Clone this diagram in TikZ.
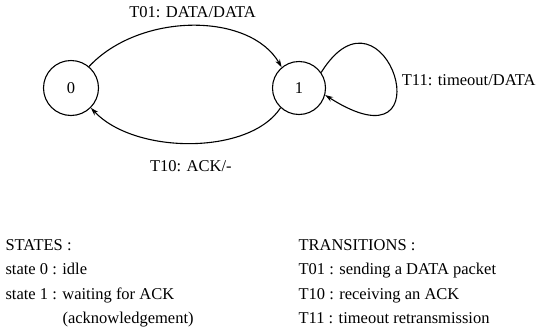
\documentclass[tikz,border=0pt]{standalone}
\usepackage{fontspec}
\setmainfont{Liberation Serif}
\usetikzlibrary{arrows.meta}
\tikzstyle{state}=[circle, draw, minimum size=55pt, inner sep=0pt]
\tikzstyle{legend}=[anchor=base west, inner sep=0pt]

\begin{document}
\begin{tikzpicture}[x=1pt, y=-1pt, line width=1.1pt, >={Stealth[length=8pt, width=5pt]},
    font=\fontsize{16.5}{18}\selectfont]
    \useasboundingbox (0,0) rectangle (541,335);
% States
    \node[state] (s0) at (71,88) {0};
    \node[state, minimum size=53pt] (s1) at (299,88) {1};
% Transitions
    \draw[->] (s0.50) .. controls (140,12) and (250,12) .. node[above=4pt] {T01: DATA/DATA} (s1.130);
    \draw[->] (s1.-133) .. controls (250,155) and (135,155) .. node[below=13pt] {T10: ACK/-} (s0.-45);
    \draw[->] (s1.35) .. controls (385,-30) and (450,175) .. node[right=4pt, yshift=-5pt] {T11: timeout/DATA} (s1.-15);
% Legend
    \node[legend] (st) at (5,250) {STATES :};
    \node[legend] (st0) at (5,274) {state 0 : idle};
    \node[legend] (st1) at (5,299) {state 1 : waiting for ACK};
    \node[legend] (st1b) at (62,323) {(acknowledgement)};
    \node[legend] (tr) at (298,250) {TRANSITIONS :};
    \node[legend] (tr01) at (298,274) {T01 : sending a DATA packet};
    \node[legend] (tr10) at (298,299) {T10 : receiving an ACK};
    \node[legend] (tr11) at (298,323) {T11 : timeout retransmission};
\end{tikzpicture}
\end{document}
